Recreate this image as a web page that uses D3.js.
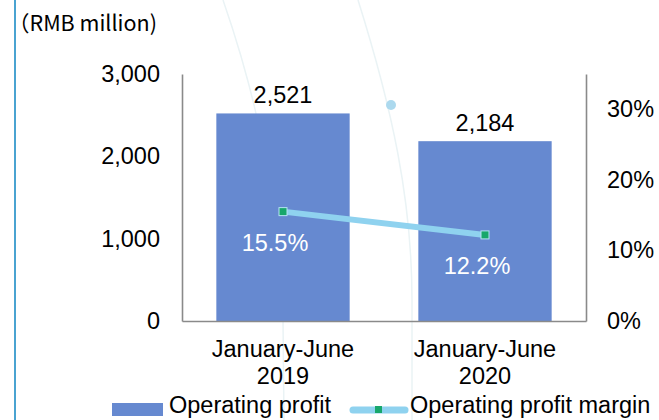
<!DOCTYPE html>
<head>
<meta charset="utf-8">
<script src="https://d3js.org/d3.v7.min.js"></script>
<style>
    body { margin: 0; background: #fff; }
    text { font-family: "Liberation Sans", Arial, sans-serif; font-size: 23.5px; fill: #000; }
    .axis path { stroke: #8a8a8a; stroke-width: 1.6px; }
    .axis text { font-family: "Liberation Sans", Arial, sans-serif; font-size: 23.5px; fill: #000; }
</style>
</head>
<body>
<svg></svg>
<script>
    var width = 659;
    var height = 420;

    // chart data
    var categories = ["January-June 2019", "January-June 2020"];
    var categoryLines = [["January-June", "2019"], ["January-June", "2020"]];
    var profit = [2521, 2184];          // RMB million
    var margin = [0.155, 0.122];        // operating profit margin
    var leftTicks = [0, 1000, 2000, 3000];
    var rightTicks = [0, 0.1, 0.2, 0.3];

    var svg = d3.select("svg")
        .attr("width", width)
        .attr("height", height);

    var x = d3.scaleBand()
        .domain(categories)
        .range([182, 586])
        .paddingInner(0.34)
        .paddingOuter(0.17);

    var yL = d3.scaleLinear().domain([0, 3000]).range([321, 74]);
    var yR = d3.scaleLinear().domain([0, 0.35]).range([321, 74]);

    // decoration: thin arcs in the background and the left border line
    svg.append("path")
        .attr("d", "M223,0 C262,112 283,230 283,320 L284,420")
        .attr("fill", "none").attr("stroke", "#eaf3f5").attr("stroke-width", 1.5);
    svg.append("path")
        .attr("d", "M358,0 C392,108 412,200 412,300 L412,420")
        .attr("fill", "none").attr("stroke", "#eaf3f5").attr("stroke-width", 1.5);
    svg.append("circle")
        .attr("cx", 391).attr("cy", 105).attr("r", 5)
        .attr("fill", "#acd9ee");
    svg.append("line")
        .attr("x1", 15).attr("x2", 15).attr("y1", 0).attr("y2", height)
        .attr("stroke", "#4aa3d1").attr("stroke-width", 2);

    svg.append("text")
        .attr("x", 8).attr("y", 31)
        .style("font-family", "'Noto Sans CJK SC', 'Noto Sans', sans-serif")
        .style("font-size", "21.5px")
        .text("（RMB million)");

    // bars
    svg.selectAll(".bar")
        .data(profit)
        .enter().append("rect")
        .attr("class", "bar")
        .attr("x", function(d, i) { return x(categories[i]); })
        .attr("width", x.bandwidth())
        .attr("y", function(d) { return yL(d); })
        .attr("height", function(d) { return yL(0) - yL(d); })
        .attr("fill", "#6689d0");

    svg.selectAll(".barlabel")
        .data(profit)
        .enter().append("text")
        .attr("x", function(d, i) { return x(categories[i]) + x.bandwidth() / 2; })
        .attr("y", function(d) { return yL(d) - 10; })
        .attr("text-anchor", "middle")
        .text(d3.format(","));

    // axes
    svg.append("g").attr("class", "axis")
        .attr("transform", "translate(182,0)")
        .call(d3.axisLeft(yL).tickValues(leftTicks).tickSize(0).tickPadding(22).tickFormat(d3.format(",")));
    svg.append("g").attr("class", "axis")
        .attr("transform", "translate(586,0)")
        .call(d3.axisRight(yR).tickValues(rightTicks).tickSize(0).tickPadding(21).tickFormat(d3.format(".0%")));
    svg.append("g").attr("class", "axis")
        .attr("transform", "translate(0,321)")
        .call(d3.axisBottom(x).tickSize(0).tickFormat(""));

    svg.selectAll(".catlabel")
        .data(categoryLines)
        .enter().append("text")
        .attr("text-anchor", "middle")
        .attr("x", function(d, i) { return x(categories[i]) + x.bandwidth() / 2; })
        .attr("y", 357)
        .selectAll("tspan")
        .data(function(d) { return d; })
        .enter().append("tspan")
        .attr("x", function() { return d3.select(this.parentNode).attr("x"); })
        .attr("dy", function(d, j) { return j === 0 ? 0 : 27; })
        .text(function(d) { return d; });

    // margin line
    var cx = function(d, i) { return x(categories[i]) + x.bandwidth() / 2; };
    var line = d3.line()
        .x(function(d, i) { return cx(d, i); })
        .y(function(d) { return yR(d); });

    svg.append("path")
        .datum(margin)
        .attr("d", line)
        .attr("fill", "none")
        .attr("stroke", "#8fd2ef")
        .attr("stroke-width", 6);

    svg.selectAll(".marker")
        .data(margin)
        .enter().append("rect")
        .attr("x", function(d, i) { return cx(d, i) - 4; })
        .attr("y", function(d) { return yR(d) - 4; })
        .attr("width", 8).attr("height", 8)
        .attr("fill", "#18a76b")
        .attr("stroke", "#b5e3f3").attr("stroke-width", 1);

    svg.selectAll(".marginlabel")
        .data(margin)
        .enter().append("text")
        .attr("x", function(d, i) { return cx(d, i) - 8; })
        .attr("y", function(d) { return yR(d) + 39; })
        .attr("text-anchor", "middle")
        .style("fill", "#fff")
        .text(d3.format(".1%"));

    // legend
    var legend = svg.append("g");
    legend.append("rect")
        .attr("x", 112).attr("y", 403).attr("width", 51).attr("height", 13)
        .attr("fill", "#6689d0");
    legend.append("text").attr("x", 169).attr("y", 413).text("Operating profit");
    legend.append("line")
        .attr("x1", 353).attr("x2", 405).attr("y1", 410).attr("y2", 410)
        .attr("stroke", "#8fd2ef").attr("stroke-width", 7).attr("stroke-linecap", "round");
    legend.append("rect")
        .attr("x", 375).attr("y", 406).attr("width", 7).attr("height", 7)
        .attr("fill", "#18a76b");
    legend.append("text").attr("x", 410).attr("y", 413).text("Operating profit margin");
</script>
</body>
